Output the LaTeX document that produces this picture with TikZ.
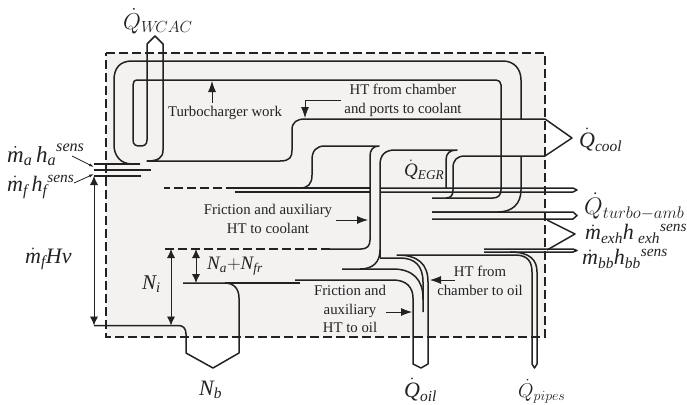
\documentclass[tikz,border=0pt]{standalone}
\usepackage{fix-cm}
\usepackage{fontspec}
\setmainfont{Liberation Serif}
\usetikzlibrary{arrows.meta}
\definecolor{panel}{HTML}{F3F2F1}
\definecolor{ink}{HTML}{222222}
\newcommand{\symsize}[1]{\fontsize{#1}{#1}\selectfont}
\tikzset{
  flow/.style={draw=ink,line width=1.5pt,line join=round},
  bar/.style={draw=ink,line width=1.7pt,line join=round},
  pointer/.style={draw=ink,line width=0.8pt,-{Latex[length=11pt,width=8pt]}},
  dimen/.style={draw=ink,line width=0.8pt,{Latex[length=9pt,width=8pt]}-{Latex[length=9pt,width=8pt]}},
  leader/.style={draw=ink,line width=0.8pt,-{Latex[length=5pt,width=3pt]}},
  note/.style={text=ink,font=\fontsize{14.8}{18.8}\selectfont,align=center,inner sep=0pt},
  sym/.style={text=ink,font=\symsize{22},inner sep=0pt,anchor=west},
}
\begin{document}
\begin{tikzpicture}[x=1pt,y=-1pt]
\useasboundingbox (0,0) rectangle (687,404);
% system boundary
\path[fill=panel] (106,53) rectangle (545,337);
\coordinate (bl) at (106,337); \coordinate (tl) at (106,53);
\coordinate (tr) at (545,53); \coordinate (br) at (545,337);
\draw[draw=ink,line width=1.6pt,dash pattern=on 9pt off 4pt] (tl) -- (tr) -- (br) -- (bl) -- cycle;
% WCAC and charge air loop
\path[flow] (140,164) -- (132,164) .. controls (120,164) and (114,155) .. (114,145) -- (114,80) .. controls (114,68) and (120,61) .. (132,61) -- (503,61) .. controls (514,61) and (521,69) .. (521,80) -- (521,119);
\path[flow] (147,44) -- (147,140) .. controls (147,145) and (144,146) .. (140,146) .. controls (136,146) and (133,145) .. (133,140) -- (133,85) .. controls (133,82) and (134,80) .. (138,80) -- (496,80) .. controls (499,80) and (501,82) .. (501,85) -- (501,190) .. controls (501,195) and (498,198) .. (493,198) -- (432,198);
\path[flow] (147,44) -- (155,36) -- (163,44) -- (163,150) .. controls (163,158) and (158,161) .. (147,161) -- (280,161) .. controls (290,161) and (292,157) .. (292,150) -- (292,130) .. controls (292,122) and (297,119) .. (305,119) -- (545,119) -- (572,138) -- (545,156) -- (465,156) .. controls (457,156) and (453,160) .. (453,168) -- (453,190) .. controls (453,195) and (451,198) .. (446,198);
\path[flow] (521,157) -- (521,190) .. controls (521,204) and (512,212) .. (498,212) -- (432,212);
% coolant from friction
\path[flow] (300,188) .. controls (308,188) and (312,184) .. (312,175) -- (312,160) .. controls (312,151) and (316,146) .. (325,146) -- (379,146) .. controls (373,146) and (370,150) .. (370,156) -- (370,240) .. controls (370,246) and (367,249) .. (361,249) -- (330,249);
\path[flow,dash pattern=on 9pt off 4pt] (330,249) -- (165,249);
\path[flow,dash pattern=on 9pt off 4pt] (235,188) -- (164,188);
\path[flow] (235,188) -- (370,188);
\path[flow] (235,192) -- (370,192);
% EGR
\path[flow] (380,258) -- (380,165) .. controls (380,155) and (385,150) .. (395,150) -- (457,150) .. controls (450,150) and (446,153) .. (446,160) -- (446,188);
% thin exit tubes
\path[flow] (380,188) -- (573,188) -- (577,190) -- (573,192) -- (380,192);
\path[flow] (432,212) -- (573,212) -- (577,215.5) -- (573,219) -- (432,219);
\path[flow] (547,220) -- (575,234) -- (547,250);
\path[flow] (484,249) -- (573,249) -- (577,250.5) -- (573,252) -- (484,252);
% pipes and oil
\path[flow] (510,252) .. controls (530,252) and (537,260) .. (537,272) -- (537,364) -- (534.5,368) -- (532,364) -- (532,272) .. controls (532,262) and (528,255) .. (515,255) -- (397,255) .. controls (418,255) and (428,264) .. (428,282) -- (428,364) -- (421,368) -- (413,364) -- (413,298) .. controls (413,287) and (406,280) .. (393,280) -- (295,280);
\path[flow] (380,250) .. controls (380,262) and (373,269) .. (360,269) -- (342,269);
\path[flow] (360,269) -- (393,269) .. controls (413,269) and (423,280) .. (423,298) -- (423,312);
\path[flow] (380,258) -- (400,258) .. controls (415,258) and (423,266) .. (423,282) -- (423,300);
% indicated and brake power
\path[flow] (183,283) -- (225,283) .. controls (234,283) and (239,289) .. (239,298) -- (239,353) -- (213,368) -- (186,353) -- (186,334) .. controls (186,328) and (183,325.5) .. (178,325.5) -- (94,325.5);
\path[flow] (225,283) -- (300,283);
% inputs
\path[flow] (94,164) -- (140,164);
\path[bar] (94,170) -- (151,170);
\path[flow] (94,176) -- (141,176);
% arrows
\coordinate (a1) at (94,176); \coordinate (a2) at (94,325.5);
\path[dimen] (a1) -- (a2);
\coordinate (b1) at (171,249); \coordinate (b2) at (171,325.5);
\path[dimen] (b1) -- (b2);
\coordinate (c1) at (196,249); \coordinate (c2) at (196,283);
\path[dimen] (c1) -- (c2);
\coordinate (d1) at (212,103); \coordinate (d2) at (212,81);
\path[pointer] (d1) -- (d2);
\coordinate (e1) at (341,100); \coordinate (e2) at (305,100); \coordinate (e3) at (305,118);
\draw[draw=ink,line width=0.8pt] (e1) -- (e2);
\path[pointer] (e2) -- (e3);
\coordinate (f1) at (336,220); \coordinate (f2) at (368,220);
\path[pointer] (f1) -- (f2);
\coordinate (g1) at (386,312); \coordinate (g2) at (412,312);
\path[pointer] (g1) -- (g2);
\coordinate (h1) at (455,280); \coordinate (h2) at (430,280);
\path[pointer] (h1) -- (h2);
\coordinate (i1) at (72,156); \coordinate (i2) at (94,167);
\path[leader] (i1) -- (i2);
\coordinate (j1) at (74,183); \coordinate (j2) at (94,174);
\path[leader] (j1) -- (j2);
% notes
\node[note] (n1) at (225,113) {Turbocharger work};
\node[note] (n2) at (403,100) {HT from chamber\\and ports to coolant};
\node[note] (n3) at (268,219) {Friction and auxiliary\\HT to coolant};
\node[note] (n4) at (350,309) {Friction and\\auxiliary\\HT to oil};
\node[note] (n5) at (480,281) {HT from\\chamber to oil};
% symbols
\node[sym,font=\symsize{23}] (s1) at (123,21) {$\dot{Q}_{W\!CAC}$};
\node[sym,font=\symsize{23}] (s2) at (7,155) {$\dot{\mathit{m}}_{\mathit{a}}\,\mathit{h}_{\mathit{a}}{}^{\raisebox{2pt}{$\scriptstyle\mathit{sens}$}}$};
\node[sym,font=\symsize{22}] (s3) at (7,187) {$\dot{\mathit{m}}_{\mathit{f}}\,\mathit{h}_{\mathit{f}}{}^{\raisebox{1pt}{$\scriptstyle\mathit{sens}$}}$};
\node[sym] (s4) at (25,259) {$\dot{\mathit{m}}_{\mathit{f}}\mathit{Hv}$};
\node[sym,font=\symsize{21}] (s5) at (142,284) {$\mathit{N}_{\mathit{i}}$};
\node[sym,font=\symsize{19}] (s6) at (207,266) {$\mathit{N}_{\mathit{a}}{+}\mathit{N}_{\mathit{fr}}$};
\node[sym] (s7) at (199,390) {$\mathit{N}_{\mathit{b}}$};
\node[sym,font=\symsize{19}] (s8) at (404,170) {$\dot{\mathit{Q}}_{\mathit{EGR}}$};
\node[sym] (s9) at (579,140) {$\dot{\mathit{Q}}_{\mathit{cool}}$};
\node[sym,font=\symsize{24}] (s10) at (584,206) {$\dot{Q}_{turbo-amb}$};
\node[sym] (s11) at (585,234) {$\dot{\mathit{m}}_{\mathit{exh}}\mathit{h}_{\;\mathit{exh}}{}^{\mathit{sens}}$};
\node[sym] (s12) at (582,259) {$\dot{\mathit{m}}_{\mathit{bb}}\mathit{h}_{\mathit{bb}}{}^{\mathit{sens}}$};
\node[sym] (s13) at (404,390) {$\dot{\mathit{Q}}_{\mathit{oil}}$};
\node[sym,font=\symsize{20}] (s14) at (518,391) {$\dot{Q}_{pipes}$};
\end{tikzpicture}
\end{document}
